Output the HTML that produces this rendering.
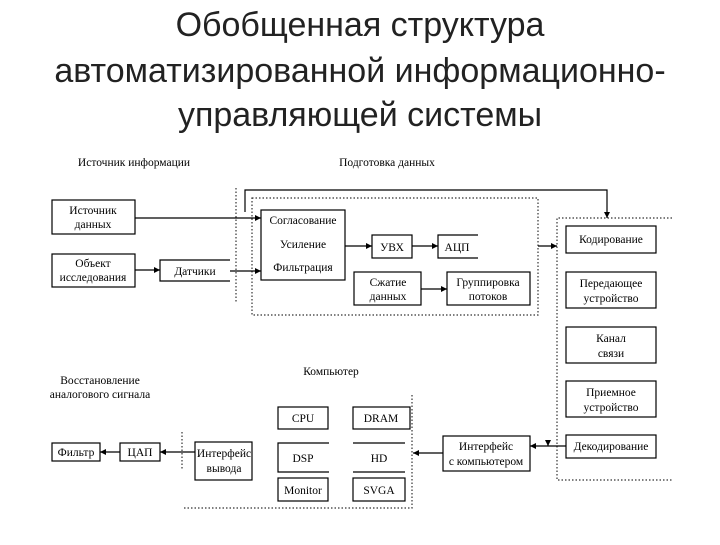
<!DOCTYPE html>
<html><head><meta charset="utf-8"><style>
body{margin:0;background:#fff;}
.t{font-family:"Liberation Sans","DejaVu Sans",sans-serif;font-size:34px;fill:#222;}
text.s{font-family:"Liberation Serif","DejaVu Serif",serif;font-size:11.5px;fill:#000;}
</style></head><body>
<svg width="720" height="540" xmlns="http://www.w3.org/2000/svg">
<defs><marker id="a" markerWidth="7" markerHeight="7" refX="6" refY="3.5" orient="auto" markerUnits="userSpaceOnUse"><path d="M0,0.5 L6,3.5 L0,6.5z" fill="#000"/></marker></defs>
<g text-anchor="middle" class="t">
<text class="t" x="360" y="36">Обобщенная структура</text>
<text class="t" x="360" y="82">автоматизированной информационно-</text>
<text class="t" x="360" y="126">управляющей системы</text>
</g>
<g fill="none" stroke="#000" stroke-width="1.2">
<!-- dotted -->
<g stroke-dasharray="1.5,2" stroke="#333">
<line x1="236" y1="188" x2="236" y2="302"/>
<rect x="252" y="198" width="286" height="117"/>
<polyline points="672,218 557,218 557,480 672,480"/>
<polyline points="182,432 182,470"/>
<polyline points="412,395 412,508 182,508"/>
</g>
<rect x="52" y="200" width="83" height="34"/>
<rect x="52" y="254" width="83" height="33"/>
<polyline points="230,260 160,260 160,281 230,281"/>
<rect x="261" y="210" width="84" height="70"/>
<rect x="372" y="235" width="40" height="23"/>
<polyline points="478,235 438,235 438,258 478,258"/>
<rect x="354" y="272" width="67" height="33"/>
<rect x="447" y="272" width="83" height="33"/>
<rect x="566" y="226" width="90" height="27"/>
<rect x="566" y="272" width="90" height="36"/>
<rect x="566" y="327" width="90" height="36"/>
<rect x="566" y="381" width="90" height="36"/>
<rect x="566" y="435" width="90" height="23"/>
<rect x="278" y="407" width="50" height="22"/>
<rect x="353" y="407" width="57" height="22"/>
<polyline points="329,443 278,443 278,472 329,472"/>
<polyline points="353,443 405,443 M353,472 405,472"/>
<line x1="353" y1="472" x2="405" y2="472"/>
<rect x="278" y="478" width="50" height="23"/>
<rect x="353" y="478" width="52" height="23"/>
<rect x="195" y="442" width="57" height="38"/>
<rect x="443" y="436" width="87" height="35"/>
<rect x="52" y="443" width="48" height="18"/>
<rect x="120" y="443" width="40" height="18"/>
<!-- arrows -->
<line x1="135" y1="218" x2="261" y2="218" marker-end="url(#a)"/>
<line x1="135" y1="270" x2="160" y2="270" marker-end="url(#a)"/>
<line x1="230" y1="271" x2="261" y2="271" marker-end="url(#a)"/>
<line x1="345" y1="246" x2="372" y2="246" marker-end="url(#a)"/>
<line x1="412" y1="246" x2="438" y2="246" marker-end="url(#a)"/>
<line x1="421" y1="289" x2="447" y2="289" marker-end="url(#a)"/>
<line x1="538" y1="246" x2="557" y2="246" marker-end="url(#a)"/>
<polyline points="245,212 245,190 607,190 607,218" marker-end="url(#a)"/>
<line x1="566" y1="446" x2="530" y2="446" marker-end="url(#a)"/>
<line x1="548" y1="440" x2="548" y2="446" marker-end="url(#a)"/>
<line x1="443" y1="453" x2="413" y2="453" marker-end="url(#a)"/>
<line x1="195" y1="452" x2="160" y2="452" marker-end="url(#a)"/>
<line x1="120" y1="452" x2="100" y2="452" marker-end="url(#a)"/>
</g>
<g text-anchor="middle">
<text class="s" x="134" y="166">Источник информации</text>
<text class="s" x="387" y="166">Подготовка данных</text>
<text class="s" x="93" y="214">Источник</text><text class="s" x="93" y="228">данных</text>
<text class="s" x="93" y="267">Объект</text><text class="s" x="93" y="281">исследования</text>
<text class="s" x="195" y="275">Датчики</text>
<text class="s" x="303" y="224">Согласование</text>
<text class="s" x="303" y="248">Усиление</text>
<text class="s" x="303" y="271">Фильтрация</text>
<text class="s" x="392" y="251">УВХ</text>
<text class="s" x="457" y="251">АЦП</text>
<text class="s" x="388" y="286">Сжатие</text><text class="s" x="388" y="300">данных</text>
<text class="s" x="488" y="286">Группировка</text><text class="s" x="488" y="300">потоков</text>
<text class="s" x="611" y="243">Кодирование</text>
<text class="s" x="611" y="287">Передающее</text><text class="s" x="611" y="302">устройство</text>
<text class="s" x="611" y="342">Канал</text><text class="s" x="611" y="357">связи</text>
<text class="s" x="611" y="396">Приемное</text><text class="s" x="611" y="411">устройство</text>
<text class="s" x="611" y="450">Декодирование</text>
<text class="s" x="331" y="375">Компьютер</text>
<text class="s" x="100" y="384">Восстановление</text><text class="s" x="100" y="398">аналогового сигнала</text>
<text class="s" x="303" y="422">CPU</text>
<text class="s" x="381" y="422">DRAM</text>
<text class="s" x="303" y="462">DSP</text>
<text class="s" x="379" y="462">HD</text>
<text class="s" x="303" y="494">Monitor</text>
<text class="s" x="379" y="494">SVGA</text>
<text class="s" x="224" y="457">Интерфейс</text><text class="s" x="224" y="472">вывода</text>
<text class="s" x="486" y="450">Интерфейс</text><text class="s" x="486" y="465">с компьютером</text>
<text class="s" x="76" y="456">Фильтр</text>
<text class="s" x="140" y="456">ЦАП</text>
</g>
</svg>
</body></html>
